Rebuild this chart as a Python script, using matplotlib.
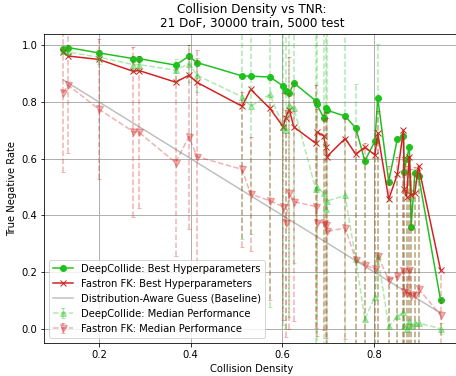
import matplotlib
matplotlib.use('Agg')
from matplotlib import pyplot as plt

# collision density of each test environment
density = [0.122, 0.133, 0.200, 0.275, 0.287, 0.367, 0.396, 0.414, 0.512, 0.531,
           0.573, 0.602, 0.607, 0.615, 0.625, 0.673, 0.675, 0.690, 0.695, 0.697,
           0.737, 0.760, 0.780, 0.802, 0.808, 0.832, 0.851, 0.864, 0.866, 0.871,
           0.877, 0.881, 0.889, 0.897, 0.945]

# best hyperparameter TNR per environment
dc_best = [0.986, 0.992, 0.973, 0.953, 0.953, 0.930, 0.961, 0.939, 0.892, 0.891,
           0.888, 0.856, 0.839, 0.830, 0.867, 0.804, 0.792, 0.745, 0.777, 0.771,
           0.750, 0.708, 0.592, 0.662, 0.815, 0.519, 0.671, 0.680, 0.554, 0.600,
           0.640, 0.360, 0.548, 0.540, 0.102]
fk_best = [0.976, 0.962, 0.950, 0.908, 0.911, 0.870, 0.894, 0.869, 0.785, 0.844,
           0.777, 0.712, 0.745, 0.773, 0.712, 0.654, 0.695, 0.680, 0.640, 0.607,
           0.671, 0.616, 0.640, 0.613, 0.691, 0.457, 0.545, 0.700, 0.492, 0.466,
           0.607, 0.472, 0.478, 0.574, 0.208]

# median TNR over the hyperparameter sweep, with standard deviation
dc_median = [0.980, 0.976, 0.958, 0.932, 0.932, 0.912, 0.935, 0.894, 0.818, 0.785,
             0.827, 0.712, 0.700, 0.790, 0.780, 0.492, 0.500, 0.478, 0.421, 0.450,
             0.470, 0.245, 0.034, 0.112, 0.257, 0.008, 0.043, 0.057, 0.010, 0.000,
             0.026, 0.010, 0.020, 0.020, 0.000]
dc_std = [0.010, 0.012, 0.025, 0.025, 0.020, 0.040, 0.065, 0.060, 0.500, 0.450,
          0.750, 0.700, 0.700, 0.750, 0.550, 0.600, 0.600, 0.600, 0.650, 0.600,
          0.650, 0.620, 0.560, 0.490, 0.746, 0.450, 0.500, 0.500, 0.500, 0.480,
          0.500, 0.480, 0.500, 0.500, 0.020]
fk_median = [0.832, 0.859, 0.774, 0.695, 0.693, 0.586, 0.677, 0.607, 0.562, 0.475,
             0.451, 0.430, 0.372, 0.478, 0.448, 0.431, 0.374, 0.374, 0.366, 0.343,
             0.355, 0.243, 0.225, 0.210, 0.257, 0.173, 0.185, 0.205, 0.131, 0.125,
             0.208, 0.114, 0.120, 0.140, 0.049]
fk_std = [0.278, 0.240, 0.247, 0.300, 0.268, 0.329, 0.325, 0.375, 0.273, 0.200,
          0.350, 0.400, 0.400, 0.480, 0.420, 0.430, 0.400, 0.380, 0.400, 0.400,
          0.390, 0.450, 0.430, 0.490, 0.510, 0.400, 0.420, 0.400, 0.450, 0.450,
          0.400, 0.450, 0.450, 0.420, 0.160]

# distribution-aware guess: predict free space with probability 1 - density
guess = [0.878, 0.867, 0.800, 0.725, 0.713, 0.633, 0.604, 0.586, 0.488, 0.469,
         0.427, 0.398, 0.393, 0.385, 0.375, 0.327, 0.325, 0.310, 0.305, 0.303,
         0.263, 0.240, 0.220, 0.198, 0.192, 0.168, 0.149, 0.136, 0.134, 0.129,
         0.123, 0.119, 0.111, 0.103, 0.055]

green = '#1ec21e'
red = '#d42020'

fig = plt.figure(figsize=(456 / 72, 376 / 72), dpi=72)
ax = fig.add_axes([44.3 / 456, 33.3 / 376, 415 / 456, 309.2 / 376])

ax.plot(density, dc_best, color=green, marker='o', markersize=6,
        label='DeepCollide: Best Hyperparameters')
ax.plot(density, fk_best, color=red, marker='x', markersize=6,
        label='Fastron FK: Best Hyperparameters')
ax.plot(density, guess, color='gray', alpha=0.5,
        label='Distribution-Aware Guess (Baseline)')
dc_eb = ax.errorbar(density, dc_median, yerr=dc_std, color=green, ls='--',
                    marker='^', markersize=6, capsize=2, alpha=0.35,
                    label='DeepCollide: Median Performance')
fk_eb = ax.errorbar(density, fk_median, yerr=fk_std, color=red, ls='--',
                    marker='v', markersize=7, capsize=2, alpha=0.35,
                    label='Fastron FK: Median Performance')
# dashed error bars as well as dashed median lines
for eb in (dc_eb, fk_eb):
    eb[2][0].set_linestyle('--')

ax.set_xlim(0.0807, 0.986)
ax.set_ylim(-0.0496, 1.0416)
ax.set_xticks([0.2, 0.4, 0.6, 0.8])
ax.set_yticks([0.0, 0.2, 0.4, 0.6, 0.8, 1.0])
ax.grid(True, color='#b0b0b0', lw=1)
ax.set_axisbelow(True)
ax.set_xlabel('Collision Density')
ax.set_ylabel('True Negative Rate')
ax.set_title('Collision Density vs TNR:\n21 DoF, 30000 train, 5000 test')
ax.legend(loc='lower left')

fig.savefig('out.png', dpi=72)
